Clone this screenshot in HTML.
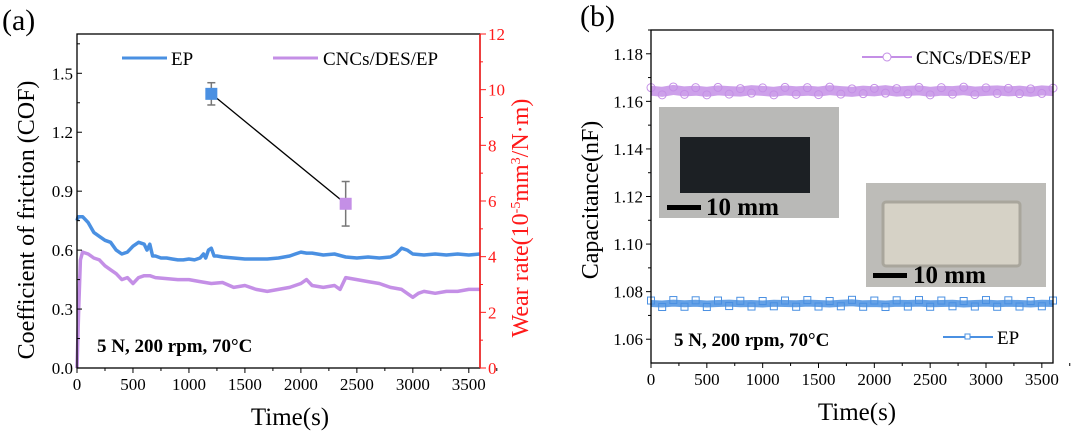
<!DOCTYPE html>
<html><head><meta charset="utf-8">
<style>
html,body{margin:0;padding:0;background:#fff;}
svg{display:block;}
svg text{font-family:"Liberation Serif","Times New Roman",serif;}
</style></head>
<body>
<svg id="fig" width="1080" height="434" viewBox="0 0 1080 434" xmlns="http://www.w3.org/2000/svg" font-family="Liberation Serif, serif">
<g id="pa"></g>
<g id="pb"></g>
</svg>
<script>
// ---- Panel (a) data ----
const epTime = [0,10,50,100,150,200,250,300,350,400,450,500,550,600,625,650,675,700,750,800,850,900,950,1000,1050,1100,1130,1150,1175,1200,1225,1250,1300,1400,1500,1600,1700,1800,1900,1950,2000,2050,2100,2200,2300,2400,2500,2600,2700,2800,2850,2900,2950,3000,3100,3200,3300,3400,3500,3600];
const epCof  = [0.75,0.77,0.77,0.74,0.69,0.67,0.65,0.64,0.60,0.58,0.59,0.62,0.64,0.63,0.60,0.63,0.57,0.57,0.56,0.56,0.555,0.55,0.55,0.555,0.55,0.56,0.58,0.56,0.60,0.61,0.57,0.57,0.565,0.56,0.555,0.555,0.555,0.56,0.57,0.58,0.59,0.585,0.585,0.575,0.58,0.565,0.56,0.565,0.56,0.565,0.58,0.61,0.60,0.58,0.575,0.58,0.575,0.58,0.575,0.58];
const cncTime = [0,15,30,50,100,150,200,250,300,350,400,450,500,550,600,650,700,800,900,1000,1100,1200,1300,1400,1500,1600,1700,1800,1900,2000,2050,2100,2200,2300,2350,2400,2500,2600,2700,2800,2900,3000,3050,3100,3200,3300,3400,3500,3600];
const cncCof  = [0,0.30,0.55,0.59,0.58,0.56,0.55,0.52,0.50,0.48,0.45,0.46,0.43,0.46,0.47,0.47,0.46,0.455,0.45,0.45,0.44,0.43,0.435,0.41,0.42,0.40,0.39,0.40,0.41,0.43,0.45,0.42,0.41,0.42,0.40,0.46,0.45,0.44,0.43,0.41,0.40,0.36,0.38,0.39,0.38,0.39,0.39,0.40,0.40];
const wearTime = [1200,2400];
const wearRate = [9.85,5.9];
const wearErr  = [0.4,0.8];
const cofTicks = [0,0.3,0.6,0.9,1.2,1.5];
const wearTicks = [0,2,4,6,8,10,12];
const timeTicks = [0,500,1000,1500,2000,2500,3000,3500];
// ---- Panel (b) data ----
const capTime = [0,100,200,300,400,500,600,700,800,900,1000,1100,1200,1300,1400,1500,1600,1700,1800,1900,2000,2100,2200,2300,2400,2500,2600,2700,2800,2900,3000,3100,3200,3300,3400,3500,3600];
const capCnc = [1.1645,1.1640,1.1648,1.1642,1.1645,1.1640,1.1646,1.1643,1.1641,1.1647,1.1644,1.1640,1.1646,1.1642,1.1645,1.1641,1.1647,1.1643,1.1640,1.1645,1.1642,1.1647,1.1641,1.1644,1.1646,1.1640,1.1645,1.1643,1.1647,1.1641,1.1644,1.1646,1.1642,1.1645,1.1640,1.1646,1.1643];
const capEp  = [1.0750,1.0748,1.0752,1.0749,1.0751,1.0748,1.0750,1.0752,1.0749,1.0750,1.0748,1.0751,1.0750,1.0749,1.0752,1.0750,1.0748,1.0751,1.0753,1.0749,1.0750,1.0748,1.0751,1.0750,1.0752,1.0749,1.0750,1.0751,1.0748,1.0750,1.0752,1.0749,1.0751,1.0750,1.0748,1.0751,1.0750];
const capTicks = [1.06,1.08,1.10,1.12,1.14,1.16,1.18];

const NS="http://www.w3.org/2000/svg";
const FF="Liberation Serif, Times New Roman, serif";
function mk(parent,tag,attrs,text){const e=document.createElementNS(NS,tag);for(const k in attrs)e.setAttribute(k,attrs[k]);if(tag==='text')e.setAttribute('font-family',FF);if(text!==undefined)e.textContent=text;parent.appendChild(e);return e;}
const BLUE="#4a90e2", PURP="#c48fe6", RED="#ff1a1a";

// ===== Panel a =====
const A=document.getElementById('pa');
const aL=77,aR=480,aT=34,aB=368;
const ax=t=>aL+(t/3600)*(aR-aL);
const ay=v=>aB-(v/1.7)*(aB-aT);
const ayr=v=>aB-(v/12)*(aB-aT);

let lbl=mk(A,'text',{x:2,y:30,'font-size':30});lbl.textContent='(a)';



function poly(parent,ts,vs,fx,fy,color,w,name){
  const p=ts.map((t,i)=>fx(t).toFixed(1)+','+fy(vs[i]).toFixed(1)).join(' ');
  const e=mk(parent,'polyline',{points:p,fill:'none',stroke:color,'stroke-width':w,'stroke-linejoin':'round'});
  
  
  return e;
}
poly(A,cncTime,cncCof,ax,ay,PURP,3.5,'cnc-cof-line');
poly(A,epTime,epCof,ax,ay,BLUE,3.5,'ep-cof-line');

poly(A,wearTime,wearRate,ax,ayr,'#000',1.3,'wear-rate-line');
wearTime.forEach((t,i)=>{
  const x=ax(t),y=ayr(wearRate[i]),y1=ayr(wearRate[i]+wearErr[i]),y2=ayr(wearRate[i]-wearErr[i]);
  let g=mk(A,'g',{});
  
  
  mk(g,'line',{x1:x,y1:y1,x2:x,y2:y2,stroke:'#777','stroke-width':1.5});
  mk(g,'line',{x1:x-4,y1:y1,x2:x+4,y2:y1,stroke:'#777','stroke-width':1.5});
  mk(g,'line',{x1:x-4,y1:y2,x2:x+4,y2:y2,stroke:'#777','stroke-width':1.5});
  mk(g,'rect',{x:x-6,y:y-6,width:12,height:12,fill:i===0?BLUE:PURP});
});

let fa=mk(A,'rect',{x:aL,y:aT,width:aR-aL,height:aB-aT,fill:'none',stroke:'#000','stroke-width':1.3});


mk(A,'line',{x1:aR,y1:aT,x2:aR,y2:aB,stroke:RED,'stroke-width':1.5});

cofTicks.forEach(v=>{
  const y=ay(v);
  mk(A,'line',{x1:aL,y1:y,x2:aL+5,y2:y,stroke:'#000'});
  let t=mk(A,'text',{x:aL-4,y:y+6,'font-size':17,'text-anchor':'end'},v.toFixed(1));
  
  
  if(v+0.15<1.7){const y2=ay(v+0.15);mk(A,'line',{x1:aL,y1:y2,x2:aL+3,y2:y2,stroke:'#000'});}
});
wearTicks.forEach(v=>{
  const y=ayr(v);
  mk(A,'line',{x1:aR,y1:y,x2:aR+6,y2:y,stroke:RED});
  if(v<12){const y2=ayr(v+1);mk(A,'line',{x1:aR,y1:y2,x2:aR+3,y2:y2,stroke:RED});}
  let t=mk(A,'text',{x:aR+8,y:y+6,'font-size':17,fill:RED},String(v));
  
  
});
timeTicks.forEach(v=>{
  const x=ax(v);
  mk(A,'line',{x1:x,y1:aB,x2:x,y2:aB+5,stroke:'#000'});
  mk(A,'line',{x1:ax(v+250),y1:aB,x2:ax(v+250),y2:aB+3,stroke:'#000'});
  let t=mk(A,'text',{x:x,y:aB+22,'font-size':17,'text-anchor':'middle'},String(v));
  
  
});
let xt=mk(A,'text',{x:290,y:425,'font-size':25,'text-anchor':'middle'},'Time(s)');


let yt=mk(A,'text',{x:0,y:0,'font-size':24,'text-anchor':'middle',transform:'translate(34,220) rotate(-90)'},'Coefficient of friction (COF)');


let yr=mk(A,'text',{x:0,y:0,'font-size':24,'text-anchor':'middle',fill:RED,transform:'translate(528,218) rotate(-90)'});


yr.innerHTML='Wear rate(10<tspan dy="-8" font-size="14">-5</tspan><tspan dy="8">mm</tspan><tspan dy="-8" font-size="14">3</tspan><tspan dy="8">/N·m)</tspan>';

let lg=mk(A,'g',{});


mk(lg,'line',{x1:122,y1:58,x2:167,y2:58,stroke:BLUE,'stroke-width':3});
mk(lg,'text',{x:171,y:65,'font-size':19},'EP');
mk(lg,'line',{x1:273,y1:58,x2:318,y2:58,stroke:PURP,'stroke-width':3});
mk(lg,'text',{x:323,y:65,'font-size':19},'CNCs/DES/EP');
let ca=mk(A,'text',{x:97,y:352,'font-size':19,'font-weight':'bold'},'5 N, 200 rpm, 70°C');



// ===== Panel b =====
const B=document.getElementById('pb');
const bL=651,bR=1053,bT=30,bB=363;
const bx=t=>bL+(t/3600)*(bR-bL);
const by=v=>bB-((v-1.05)/0.14)*(bB-bT);
let lb=mk(B,'text',{x:580,y:26,'font-size':30},'(b)');



let in1=mk(B,'g',{});


mk(in1,'rect',{x:659,y:107,width:180,height:111,fill:'#b9b9b7'});
mk(in1,'rect',{x:680,y:137,width:130,height:56,fill:'#1c2024'});
mk(in1,'rect',{x:667,y:205,width:34,height:5,fill:'#000'});
mk(in1,'text',{x:706,y:215,'font-size':25,'font-weight':'bold'},'10 mm');
let in2=mk(B,'g',{});


mk(in2,'rect',{x:866,y:183,width:180,height:104,fill:'#bdbcb8'});
mk(in2,'rect',{x:883,y:202,width:137,height:64,fill:'#d6d2c6',stroke:'#a9a69c','stroke-width':3,rx:3});
mk(in2,'rect',{x:873,y:273,width:34,height:5,fill:'#000'});
mk(in2,'text',{x:913,y:283,'font-size':25,'font-weight':'bold'},'10 mm');

function capSeries(vals,color,name,square){
  let g=mk(B,'g',{});
  
  
  const p=capTime.map((t,i)=>bx(t).toFixed(1)+','+by(vals[i]).toFixed(1)).join(' ');
  mk(g,'polyline',{points:p,fill:'none',stroke:color,'stroke-width':square?7:10,'stroke-opacity':0.85});
  capTime.forEach((t,i)=>{
    const x=bx(t),y=by(vals[i]);
    const off=(i%2?3:-3);
    if(square) mk(g,'rect',{x:x-3.5,y:y-3.5+off,width:7,height:7,fill:'none',stroke:color,'stroke-width':1});
    else mk(g,'circle',{cx:x,cy:y+off,r:4,fill:'none',stroke:color,'stroke-width':1});
  });
}
capSeries(capCnc,PURP,'cnc-capacitance-line',false);
capSeries(capEp,BLUE,'ep-capacitance-line',true);

let fb=mk(B,'rect',{x:bL,y:bT,width:bR-bL,height:bB-bT,fill:'none',stroke:'#000','stroke-width':1.3});


capTicks.forEach(v=>{
  const y=by(v);
  mk(B,'line',{x1:bL,y1:y,x2:bL-5,y2:y,stroke:'#000'});
  const y2=by(v+0.01);mk(B,'line',{x1:bL,y1:y2,x2:bL-3,y2:y2,stroke:'#000'});
  let t=mk(B,'text',{x:bL-8,y:y+6,'font-size':17,'text-anchor':'end'},v.toFixed(2));
  
  
});
timeTicks.forEach(v=>{
  const x=bx(v);
  mk(B,'line',{x1:x,y1:bB,x2:x,y2:bB+5,stroke:'#000'});
  mk(B,'line',{x1:bx(v+250),y1:bB,x2:bx(v+250),y2:bB+3,stroke:'#000'});
  let t=mk(B,'text',{x:x,y:bB+22,'font-size':17,'text-anchor':'middle'},String(v));
  
  
});
let xb=mk(B,'text',{x:857,y:420,'font-size':25,'text-anchor':'middle'},'Time(s)');


let ybt=mk(B,'text',{x:0,y:0,'font-size':24,'text-anchor':'middle',transform:'translate(598,200) rotate(-90)'},'Capacitance(nF)');



let lgb=mk(B,'g',{});


mk(lgb,'line',{x1:862,y1:57,x2:912,y2:57,stroke:PURP,'stroke-width':2});
mk(lgb,'circle',{cx:887,cy:57,r:4,fill:'#fff',stroke:PURP});
mk(lgb,'text',{x:916,y:64,'font-size':19},'CNCs/DES/EP');
mk(lgb,'line',{x1:943,y1:337,x2:993,y2:337,stroke:BLUE,'stroke-width':2});
mk(lgb,'rect',{x:965,y:334,width:5,height:5,fill:'#fff',stroke:BLUE});
mk(lgb,'text',{x:997,y:344,'font-size':19},'EP');
let cb=mk(B,'text',{x:674,y:346,'font-size':19,'font-weight':'bold'},'5 N, 200 rpm, 70°C');


</script>
</body></html>
